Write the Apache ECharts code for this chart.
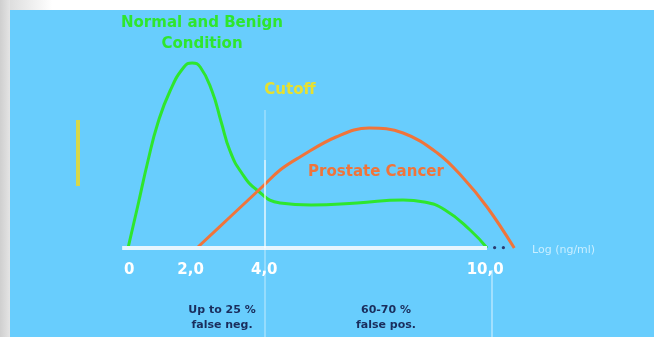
<!DOCTYPE html>
<html>
<head>
<meta charset="utf-8">
<script src="https://cdn.jsdelivr.net/npm/echarts@6/dist/echarts.min.js"></script>
<style>
  html, body { margin: 0; padding: 0; background: #fff; }
  #chart { width: 654px; height: 337px; }
</style>
</head>
<body>
<div id="chart"></div>
<script>
// x in PSA units, y in relative frequency (baseline = 0)
var normalX = [0.30, 0.57, 0.84, 1.11, 1.44, 1.82, 2.04, 2.26, 2.58, 2.83, 3.07, 3.37, 3.80, 4.43, 5.27, 6.52, 7.77, 8.34, 8.91, 9.59, 10.05];
var normalY = [0, 43, 87, 125, 157, 181, 185, 181, 157, 126, 97, 76, 58, 45, 43, 45, 48, 46, 38, 18, 0];
var cancerX = [2.17, 3.07, 3.94, 4.43, 4.97, 5.95, 6.85, 7.77, 8.70, 9.38, 10.05, 10.79];
var cancerY = [0, 31, 61, 78, 91, 111, 120, 115, 95, 71, 41, 0];

var tickAt = [0.33, 2, 4, 10];
var tickLabels = ["0", "2,0", "4,0", "10,0"];
var cutoff = 4.02;

function pairs(xs, ys) {
  return xs.map(function (x, i) { return [x, ys[i]]; });
}

var chart = echarts.init(document.getElementById("chart"));

var option = {
  animation: false,
  backgroundColor: "#68cdfd",
  grid: { left: 117, right: 132, top: 48, bottom: 0, containLabel: false, outerBoundsMode: "none" },
  xAxis: {
    type: "value",
    min: 0,
    max: 11,
    position: "bottom",
    offset: -89,
    axisLine: { show: false, onZero: false },
    axisTick: { show: false },
    splitLine: { show: false },
    axisLabel: {
      customValues: tickAt,
      formatter: function (v) {
        var i = tickAt.indexOf(v);
        return i >= 0 ? tickLabels[i] : "";
      },
      color: "#ffffff",
      fontFamily: "DejaVu Sans",
      fontWeight: "bold",
      fontSize: 15,
      margin: 15
    }
  },
  yAxis: { type: "value", min: -89, max: 200, show: false },
  series: [
    {
      // reference lines: baseline and cutoff
      type: "line",
      data: [],
      silent: true,
      markLine: {
        silent: true,
        symbol: "none",
        label: { show: false },
        data: [
          [{ coord: [0.14, 0], lineStyle: { color: "#e6f6ff", width: 4, type: "solid" } }, { coord: [10.05, 0] }],
          [{ coord: [cutoff, 138], lineStyle: { color: "rgba(255,255,255,0.35)", width: 1.5, type: "solid" } }, { coord: [cutoff, 88] }],
          [{ coord: [cutoff, 88], lineStyle: { color: "rgba(255,255,255,0.85)", width: 1.5, type: "solid" } }, { coord: [cutoff, 0] }],
          [{ coord: [cutoff, 0], lineStyle: { color: "rgba(255,255,255,0.4)", width: 1.5, type: "solid" } }, { coord: [cutoff, -89] }],
          [{ coord: [10.19, -22], lineStyle: { color: "rgba(255,255,255,0.5)", width: 1.5, type: "solid" } }, { coord: [10.19, -89] }]
        ]
      }
    },
    {
      name: "Normal and Benign Condition",
      type: "line",
      data: pairs(normalX, normalY),
      smooth: 0.5,
      showSymbol: false,
      lineStyle: { color: "#2ee62e", width: 3 }
    },
    {
      name: "Prostate Cancer",
      type: "line",
      data: pairs(cancerX, cancerY),
      smooth: 0.4,
      showSymbol: false,
      lineStyle: { color: "#f0743a", width: 3 }
    }
  ],
  graphic: [
    // slide frame: white top band, grey left strip
    { type: "rect", left: 0, top: 0, shape: { width: 654, height: 10 }, silent: true,
      style: { fill: new echarts.graphic.LinearGradient(0, 0, 1, 0, [{ offset: 0, color: "#d6d6d6" }, { offset: 0.08, color: "#ffffff" }, { offset: 1, color: "#ffffff" }]) } },
    { type: "rect", left: 0, top: 0, shape: { width: 10, height: 337 }, silent: true,
      style: { fill: new echarts.graphic.LinearGradient(0, 0, 1, 0, [{ offset: 0, color: "#cfcfcf" }, { offset: 1, color: "#e4e4e4" }]) } },
    { type: "rect", left: 76, top: 120, shape: { width: 4, height: 66 }, silent: true, style: { fill: "#d8d84a" } },
    { type: "text", x: 202, y: 23, silent: true,
      style: { text: "Normal and Benign", textAlign: "center", textVerticalAlign: "middle", fill: "#2ee62e", font: "bold 15px DejaVu Sans" } },
    { type: "text", x: 202, y: 44, silent: true,
      style: { text: "Condition", textAlign: "center", textVerticalAlign: "middle", fill: "#2ee62e", font: "bold 15px DejaVu Sans" } },
    { type: "text", x: 290, y: 90, silent: true,
      style: { text: "Cutoff", textAlign: "center", textVerticalAlign: "middle", fill: "#e6e030", font: "bold 15px DejaVu Sans" } },
    { type: "text", x: 376, y: 172, silent: true,
      style: { text: "Prostate Cancer", textAlign: "center", textVerticalAlign: "middle", fill: "#f0743a", font: "bold 15px DejaVu Sans" } },
    { type: "text", x: 499, y: 249, silent: true,
      style: { text: "• •", textAlign: "center", textVerticalAlign: "middle", fill: "#2a3a70", font: "bold 9px DejaVu Sans" } },
    { type: "text", x: 532, y: 250, silent: true,
      style: { text: "Log (ng/ml)", textAlign: "left", textVerticalAlign: "middle", fill: "#c8eeff", font: "11px DejaVu Sans" } },
    { type: "text", x: 222, y: 310, silent: true,
      style: { text: "Up to 25 %", textAlign: "center", textVerticalAlign: "middle", fill: "#1a2d5c", font: "bold 11px DejaVu Sans" } },
    { type: "text", x: 222, y: 325, silent: true,
      style: { text: "false neg.", textAlign: "center", textVerticalAlign: "middle", fill: "#1a2d5c", font: "bold 11px DejaVu Sans" } },
    { type: "text", x: 386, y: 310, silent: true,
      style: { text: "60-70 %", textAlign: "center", textVerticalAlign: "middle", fill: "#1a2d5c", font: "bold 11px DejaVu Sans" } },
    { type: "text", x: 386, y: 325, silent: true,
      style: { text: "false pos.", textAlign: "center", textVerticalAlign: "middle", fill: "#1a2d5c", font: "bold 11px DejaVu Sans" } }
  ]
};

chart.setOption(option);
window.onresize = function () {
  chart.resize();
};
</script>
</body>
</html>
